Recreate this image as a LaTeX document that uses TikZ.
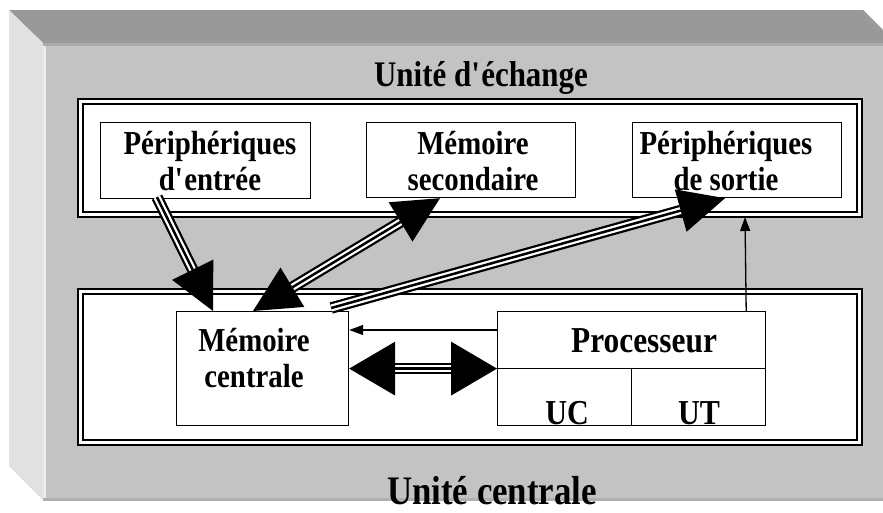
\documentclass[tikz,border=0pt]{standalone}
\usepackage{fontspec}
\setmainfont{Liberation Serif}[FakeStretch=0.86]
\usetikzlibrary{calc,arrows.meta}
\definecolor{bevtop}{HTML}{999999}
\definecolor{bevface}{HTML}{C3C3C3}
\definecolor{bevleft}{HTML}{E1E1E1}
\definecolor{bevline}{HTML}{ABABAB}
\definecolor{bevbot}{HTML}{B0B0B0}
\newcommand\lblfont{\bfseries\fontsize{33.5}{36}\selectfont}
\newcommand\cellfont{\bfseries\fontsize{35}{38}\selectfont}
\newcommand\procfont{\bfseries\fontsize{36.5}{40}\selectfont}
\newcommand\bigarrow[4]{%
  \coordinate (hb) at ($(#2)!#3!(#1)$);
  \draw[shA] (#1) -- (hb);
  \draw[shB] (#1) -- (hb);
  \draw[shC] (#1) -- (hb);
  \fill (#2) -- ($(hb)!#4!90:(#2)$) -- ($(hb)!#4!-90:(#2)$) -- cycle;}
\newcommand\bigarrowboth[4]{%
  \coordinate (hbA) at ($(#1)!#3!(#2)$);
  \coordinate (hbB) at ($(#2)!#3!(#1)$);
  \draw[shA] (hbA) -- (hbB);
  \draw[shB] (hbA) -- (hbB);
  \draw[shC] (hbA) -- (hbB);
  \fill (#1) -- ($(hbA)!#4!90:(#1)$) -- ($(hbA)!#4!-90:(#1)$) -- cycle;
  \fill (#2) -- ($(hbB)!#4!90:(#2)$) -- ($(hbB)!#4!-90:(#2)$) -- cycle;}
\tikzset{
  shA/.style={line width=11.5pt, black},
  shB/.style={line width=7pt, white},
  shC/.style={line width=2.5pt, black},
  ubox/.style={draw=black, line width=1.2pt, fill=white, inner sep=0pt, anchor=north west},
  lbl/.style={font=\lblfont, align=center, inner sep=0pt},
  thinarrow/.style={line width=1.3pt, -{Triangle[length=14pt,width=10pt]}},
  frameout/.style={draw=black, line width=2.6pt, fill=white},
  framein/.style={draw=black, line width=1.8pt},
}
\begin{document}
\begin{tikzpicture}[x=1pt,y=-1pt]
\useasboundingbox (0,0) rectangle (883,512);
\begin{scope}
\clip (0,0) rectangle (883,512);
\fill[bevtop] (9,10) -- (863,10) -- (896,43) -- (43,43) -- cycle;
\fill[bevleft] (9,10) -- (43,43) -- (43,500) -- (9,466) -- cycle;
\fill[bevface] (43,43) rectangle (890,498);
\fill[bevline] (43,43) rectangle (890,46);
\fill[white!92!black] (43,46) rectangle (45.5,498);
\fill[bevbot] (43,498) rectangle (890,501);
\end{scope}
% titles
\node[font=\bfseries\fontsize{36}{40}\selectfont, inner sep=0pt, anchor=base] (tue) at (481,86) {Unité d\textquotesingle échange};
% frames
\draw[frameout] (78,99) rectangle (862,217);
\draw[framein] (83,104) rectangle (857,212);
\draw[frameout] (78,289) rectangle (862,445);
\draw[framein] (83,294) rectangle (857,440);
\node[font=\bfseries\fontsize{40.5}{44}\selectfont, inner sep=0pt, anchor=base] (tuc) at (492,504) {Unité centrale};
% boxes
\node[ubox, minimum width=210pt, minimum height=76pt] (pe) at (100,122) {};
\node[ubox, minimum width=209pt, minimum height=75pt] (ms) at (366,122) {};
\node[ubox, minimum width=209pt, minimum height=75pt] (ps) at (632,122) {};
\node[ubox, minimum width=172pt, minimum height=114pt] (mc) at (176,311) {};
\node[ubox, minimum width=268pt, minimum height=114pt] (pr) at (497,311) {};
\draw[line width=1.2pt] (pr.west) -- (pr.east);
\draw[line width=1.2pt] (pr.center) -- (pr.south);
% labels
\node[lbl, anchor=north] (pet) at (210,131) {Périphériques\\d\textquotesingle entrée};
\node[lbl, anchor=north] (mst) at (473,131) {Mémoire\\secondaire};
\node[lbl, anchor=north] (pst) at (726,131) {Périphériques\\de sortie};
\node[lbl, anchor=north] (mct) at (254,328) {Mémoire\\centrale};
\node[font=\procfont, inner sep=0pt, anchor=base] (prt) at (644,352) {Processeur};
\node[font=\cellfont, inner sep=0pt, anchor=base] (uc) at (567,424) {UC};
\node[font=\cellfont, inner sep=0pt, anchor=base] (ut) at (699,424) {UT};
% thin arrows
\coordinate (upf) at (745,217);
\draw[thinarrow] ($(pr.north west)+(0,19)$) -- ($(mc.north east)+(0,19)$);
\draw[thinarrow] ($(pr.north east)+(-20,0)$) -- (upf);
% big arrows
\coordinate (a1s) at ($(pe.south west)+(57,-2)$);
\coordinate (a1t) at ($(mc.north west)+(37,0)$);
\bigarrow{a1s}{a1t}{46pt}{23pt}
\coordinate (a2a) at ($(mc.north west)+(77,0)$);
\coordinate (a2b) at ($(ms.south west)+(74,0)$);
\bigarrowboth{a2a}{a2b}{46pt}{23pt}
\coordinate (a3s) at ($(mc.north east)+(-18,-3)$);
\coordinate (a3t) at ($(ps.south west)+(93,0)$);
\bigarrow{a3s}{a3t}{46pt}{22pt}
\bigarrowboth{mc.east}{pr.west}{46pt}{27pt}
\end{tikzpicture}
\end{document}
